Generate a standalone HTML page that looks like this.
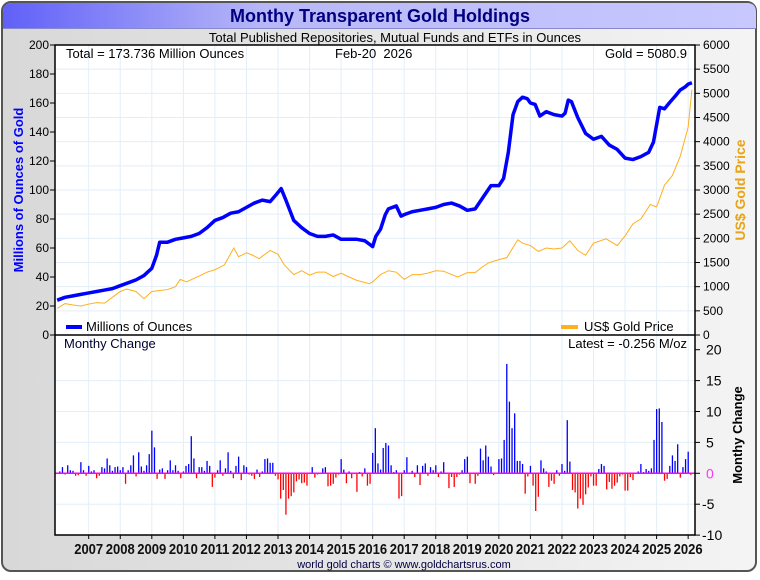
<!DOCTYPE html>
<html><head><meta charset="utf-8">
<style>
body{margin:0;background:#fff;font-family:"Liberation Sans",sans-serif;}
svg text{font-family:"Liberation Sans",sans-serif;}
</style></head>
<body>
<svg id="chart" width="760" height="575" viewBox="0 0 760 575" xmlns="http://www.w3.org/2000/svg">
<defs>
<linearGradient id="bg" x1="0" y1="0" x2="1" y2="0"><stop offset="0" stop-color="#d8d8d8"/><stop offset="1" stop-color="#f4f4f4"/></linearGradient>
<linearGradient id="tb" x1="0" y1="0" x2="1" y2="0"><stop offset="0" stop-color="#6060f8"/><stop offset="0.35" stop-color="#b8b8f8"/><stop offset="1" stop-color="#c8c8ff"/></linearGradient>
</defs>
<rect x="2" y="2" width="754" height="569" rx="9" fill="url(#bg)" stroke="#555" stroke-width="2"/>
<path d="M3,28 L3,12 Q3,3 12,3 L747,3 Q756,3 756,12 L756,28 Z" fill="url(#tb)"/>
<line x1="3" y1="28.5" x2="756" y2="28.5" stroke="#8888cc" stroke-width="1"/>
<text x="380" y="22" text-anchor="middle" font-size="18" font-weight="bold" fill="#000080">Monthy Transparent Gold Holdings</text>
<text x="395" y="42" text-anchor="middle" font-size="13" fill="#000">Total Published Repositories, Mutual Funds and ETFs in Ounces</text>
<rect x="55" y="45" width="640" height="490" fill="#fff"/>
<g id="grid"></g>
<g id="bars"></g>
<g id="lines"></g>
<rect x="55" y="45" width="640" height="490" fill="none" stroke="#000" stroke-width="1.5"/>
<line x1="55" y1="335" x2="695" y2="335" stroke="#000" stroke-width="1.5"/>
<g id="axes" font-size="12" fill="#000"></g>
<text x="66" y="58" font-size="13">Total = 173.736 Million Ounces</text>
<text x="335" y="58" font-size="13">Feb-20&#160;&#160;2026</text>
<text x="687" y="58" font-size="13" text-anchor="end">Gold = 5080.9</text>
<line x1="66" y1="327" x2="82" y2="327" stroke="#0000ff" stroke-width="4"/>
<text x="86" y="331" font-size="13">Millions of Ounces</text>
<line x1="561" y1="327" x2="578" y2="327" stroke="#ffb020" stroke-width="4"/>
<text x="584" y="331" font-size="13">US$ Gold Price</text>
<text x="64" y="348" font-size="13" fill="#000030">Monthy Change</text>
<text x="687" y="348" font-size="13" text-anchor="end">Latest = -0.256 M/oz</text>
<text transform="translate(23,190) rotate(-90)" text-anchor="middle" font-size="13" font-weight="bold" fill="#0000ff">Millions of Ounces of Gold</text>
<text transform="translate(745,190) rotate(-90)" text-anchor="middle" font-size="14" font-weight="bold" fill="#e8a317">US$ Gold Price</text>
<text transform="translate(742,435) rotate(-90)" text-anchor="middle" font-size="13" font-weight="bold" fill="#000">Monthy Change</text>
<text x="404" y="568" text-anchor="middle" font-size="11" fill="#000040">world gold charts © www.goldchartsrus.com</text>
</svg>
<script>
const holdT=[2006.0,2006.25,2006.5,2006.75,2007.0,2007.25,2007.5,2007.75,2008.0,2008.25,2008.5,2008.75,2009.0,2009.15,2009.25,2009.5,2009.75,2010.0,2010.25,2010.5,2010.75,2011.0,2011.25,2011.5,2011.75,2012.0,2012.25,2012.5,2012.75,2012.95,2013.1,2013.25,2013.5,2013.75,2014.0,2014.25,2014.5,2014.75,2015.0,2015.25,2015.5,2015.75,2016.0,2016.1,2016.25,2016.4,2016.5,2016.75,2016.9,2017.0,2017.25,2017.5,2017.75,2018.0,2018.25,2018.5,2018.75,2019.0,2019.25,2019.5,2019.75,2020.0,2020.15,2020.3,2020.45,2020.6,2020.75,2020.9,2021.0,2021.15,2021.3,2021.5,2021.75,2022.0,2022.1,2022.2,2022.3,2022.5,2022.75,2023.0,2023.25,2023.5,2023.75,2024.0,2024.25,2024.5,2024.75,2024.9,2025.1,2025.25,2025.4,2025.6,2025.75,2025.9,2026.0,2026.12];
const holdV=[24,26,27,28,29,30,31,32,34,36,38,41,46,55,64,64,66,67,68,70,74,79,81,84,85,88,91,93,92,97,101,93,79,74,70,68,68,69,66,66,66,65,61,68,73,83,87,89,82,83,85,86,87,88,90,91,89,86,87,95,103,103,108,126,152,161,164,163,160,159,151,154,152,151,153,162,161,150,139,135,137,131,128,122,121,123,126,133,157,156,160,165,169,171,173,174];
const goldT=[2006.0,2006.25,2006.5,2006.75,2007.0,2007.25,2007.5,2007.75,2008.0,2008.2,2008.5,2008.75,2009.0,2009.25,2009.5,2009.75,2009.9,2010.1,2010.5,2010.75,2011.0,2011.3,2011.6,2011.75,2012.0,2012.2,2012.4,2012.75,2013.0,2013.2,2013.5,2013.75,2014.0,2014.25,2014.5,2014.75,2015.0,2015.25,2015.5,2015.9,2016.0,2016.25,2016.5,2016.75,2017.0,2017.25,2017.5,2017.75,2018.0,2018.25,2018.5,2018.7,2019.0,2019.25,2019.5,2019.7,2020.0,2020.25,2020.6,2020.75,2021.0,2021.25,2021.5,2021.75,2022.0,2022.25,2022.5,2022.75,2023.0,2023.4,2023.75,2024.0,2024.25,2024.5,2024.8,2025.0,2025.25,2025.5,2025.75,2026.0,2026.12];
const goldV=[550,650,620,600,640,670,660,780,900,950,900,750,900,920,940,1000,1150,1100,1220,1300,1350,1450,1800,1620,1700,1650,1580,1750,1670,1450,1250,1330,1240,1300,1300,1210,1280,1200,1130,1060,1100,1250,1330,1300,1150,1250,1250,1280,1330,1320,1250,1200,1290,1290,1420,1500,1560,1600,1970,1900,1850,1730,1800,1780,1800,1950,1750,1650,1900,1990,1850,2050,2300,2400,2700,2650,3100,3300,3700,4300,5081];
const changeStart=2006.0;
const changeV=[
0,0.3,1.0,-0.2,1.3,0.5,0.4,-0.4,-0.3,1.8,0.5,-0.4,
1.2,0.3,0.5,-0.8,-0.4,1.0,0.8,2.4,1.3,0.4,1.0,1.1,
0.5,1.0,-1.7,0.5,1.3,2.9,-0.5,3.4,1.1,0.4,1.3,3.1,
6.9,4.2,-0.9,0.6,0.8,-0.9,0.5,2.1,0.5,1.3,0.4,-0.8,
0.3,1.2,1.5,6.0,2.4,-0.8,1.0,1.0,0.4,2.0,1.2,-2.2,
-0.7,0.5,2.1,-0.4,0.8,3.4,0.4,-0.8,1.2,2.7,-1.1,1.3,
1.0,-0.2,-0.4,-0.9,0.6,-0.6,0.3,2.3,2.4,1.7,1.7,-0.4,
-1.0,-4.1,-2.7,-6.7,-4.1,-3.7,-3.1,-1.3,-1.0,-1.6,-1.5,-2.0,
0,1.0,-0.7,-0.2,0,0.8,1.0,-2.1,-2.0,-1.7,-0.7,-0.2,
2.3,0.6,-1.6,0.3,-0.8,0,-3.0,0.2,-0.5,0.8,-2.0,-1.7,
3.3,7.3,1.6,0.6,4.1,4.9,4.5,1.3,0.2,0.5,-4.1,-3.7,
0.5,2.6,0,0.4,-0.6,1.3,-1.9,1.2,1.6,-0.4,1.0,0.5,
1.3,-0.6,0.3,1.8,0,-2.4,-0.6,-2.2,-0.6,-0.2,0.5,2.3,
2.7,-1.6,0,-1.7,-0.4,4.0,2.1,4.5,2.7,1.1,-0.3,0,
2.3,2.4,5.4,17.7,11.6,7.3,9.7,2.0,2.0,1.5,-3.3,-0.5,
1.2,-2.0,-6.1,-3.8,2.1,0.8,0.3,-2.2,-1.2,-1.7,0.5,-0.4,
1.5,0.4,8.6,1.9,-2.7,-3.1,-5.7,-4.1,-5.1,-3.4,-2.3,-0.5,
-2.0,-2.0,0.7,1.5,1.2,-2.6,-1.4,-2.5,-2.0,-1.5,-0.5,-0.2,
-2.8,-2.8,-0.6,-1.1,0,0.3,1.5,0.2,0.7,0.4,0.8,5.4,
10.4,10.5,8.3,-1.2,-0.9,1.2,2.9,2.0,4.7,-0.7,1.0,2.3,
3.5,-0.256];
const yearLabels=[2007,2008,2009,2010,2011,2012,2013,2014,2015,2016,2017,2018,2019,2020,2021,2022,2023,2024,2025,2026];
const leftTicks=[0,20,40,60,80,100,120,140,160,180,200];
const rightTicks=[0,500,1000,1500,2000,2500,3000,3500,4000,4500,5000,5500,6000];
const changeTicks=[-10,-5,0,5,10,15,20];

const NS="http://www.w3.org/2000/svg";
function xS(t){return 88.7+(t-2007)*31.55;}
function yL(v){return 335-v*1.45;}
function yR(v){return 335-v*(290/6000);}
function yC(v){return 473.3-v*6.18;}
function mk(tag,attrs,parent){const e=document.createElementNS(NS,tag);for(const k in attrs)e.setAttribute(k,attrs[k]);parent.appendChild(e);return e;}
const grid=document.getElementById('grid'),axes=document.getElementById('axes'),bars=document.getElementById('bars'),lines=document.getElementById('lines');
yearLabels.forEach(y=>{
  const x=xS(y);
  const g=mk('line',{x1:x,x2:x,y1:45,y2:535,stroke:'#e3eef8','stroke-width':1},grid);
  
  
  const tk=mk('line',{x1:x,x2:x,y1:535,y2:539,stroke:'#000'},axes);
  
  
  const t=mk('text',{x:x,y:554,'text-anchor':'middle','font-size':15,'font-weight':'bold',fill:'#111',textLength:29,lengthAdjust:'spacingAndGlyphs'},axes);
  t.textContent=y;
  
  
});
rightTicks.forEach(v=>{
  const y=yR(v);
  if(v>0&&v<6000){const g=mk('line',{x1:55,x2:695,y1:y,y2:y,stroke:'#e3eef8'},grid);
  
  }
  const tk=mk('line',{x1:695,x2:700,y1:y,y2:y,stroke:'#000'},axes);
  
  
  const t=mk('text',{x:703,y:y+4,'font-size':12},axes);
  t.textContent=v;
  
  
});
leftTicks.forEach(v=>{
  const y=yL(v);
  const tk=mk('line',{x1:50,x2:55,y1:y,y2:y,stroke:'#000'},axes);
  
  
  const t=mk('text',{x:49,y:y+4,'text-anchor':'end','font-size':12},axes);
  t.textContent=v;
  
  
});
changeTicks.forEach(v=>{
  const y=yC(v);
  if(v!==0&&v>-10&&v<20){const g=mk('line',{x1:55,x2:695,y1:y,y2:y,stroke:'#e3eef8'},grid);
  
  }
  const tk=mk('line',{x1:695,x2:700,y1:y,y2:y,stroke:'#000'},axes);
  
  
  const t=mk('text',{x:v<0?702:706,y:y+5,'font-size':14,fill:v===0?'#ff33ff':'#000'},axes);
  t.textContent=v;
  
  
});
changeV.forEach((v,i)=>{
  const x=xS(changeStart+i/12);
  const y0=yC(0),y1=yC(v);
  const b=mk('rect',{x:x-0.6,y:Math.min(y0,y1),width:1.3,height:Math.abs(y1-y0),fill:v>=0?'#0000ff':'#ff0000'},bars);
  
  
});
const zl=mk('line',{x1:55,x2:695,y1:yC(0),y2:yC(0),stroke:'#ff00ff','stroke-width':1.5},bars);


const gp=mk('polyline',{points:goldT.map((t,i)=>xS(t)+','+yR(goldV[i])).join(' '),fill:'none',stroke:'#ffb020','stroke-width':1},lines);


const hp=mk('polyline',{points:holdT.map((t,i)=>xS(t)+','+yL(holdV[i])).join(' '),fill:'none',stroke:'#0000ff','stroke-width':3.5,'stroke-linejoin':'round'},lines);


</script>
</body></html>
